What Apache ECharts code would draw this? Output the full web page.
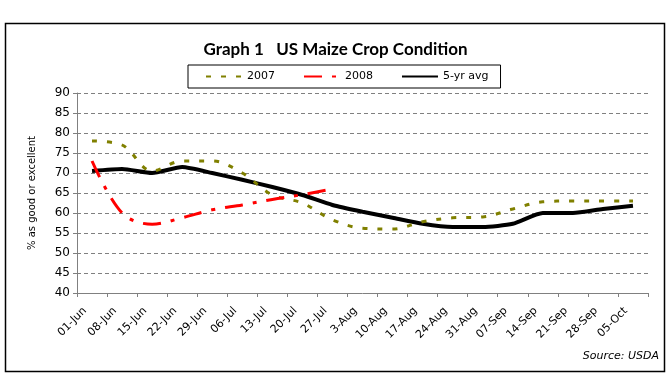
<!DOCTYPE html>
<html><head><meta charset="utf-8">
<script src="https://cdn.jsdelivr.net/npm/echarts@6/dist/echarts.min.js"></script>
<style>html,body{margin:0;padding:0;background:#fff}#c{width:671px;height:375px}</style>
</head><body><div id="c"></div>
<script>
const categories = ['01-Jun','08-Jun','15-Jun','22-Jun','29-Jun','06-Jul','13-Jul','20-Jul','27-Jul','3-Aug','10-Aug','17-Aug','24-Aug','31-Aug','07-Sep','14-Sep','21-Sep','28-Sep','05-Oct'];
const y2007 = [78, 77, 70.5, 73, 73, 70, 64.5, 62.5, 58.3, 56.2, 56, 57.8, 58.8, 59, 61, 62.8, 63, 63, 63];
const y2008 = [73, 60, 57.2, 58.8, 60.8, 62, 63.4, 64.6, 66];
const yAvg = [70.5, 71, 70, 71.5, 70, 68.3, 66.5, 64.5, 62, 60.3, 58.8, 57.3, 56.5, 56.5, 57.3, 60, 60, 61, 61.8];
const yTicks = {min: 40, max: 90, step: 5};

const chart = echarts.init(document.getElementById('c'));
chart.setOption({
  animation: false,
  backgroundColor: '#fff',
  title: {
    text: 'Graph 1   US Maize Crop Condition',
    left: 'center', top: 36,
    textStyle: {fontFamily: 'Lato', fontWeight: 'bold', fontSize: 17, color: '#000'}
  },
  legend: {
    top: 65, left: 188, orient: 'horizontal',
    itemWidth: 36, itemHeight: 11, itemGap: 28,
    padding: [6, 12, 6, 17],
    borderColor: '#000', borderWidth: 1,
    itemStyle: {opacity: 0},
    textStyle: {fontFamily: 'DejaVu Sans', fontSize: 11, color: '#000'},
    data: ['2007', '2008', '5-yr avg']
  },
  grid: {left: 77, right: 23, top: 93, bottom: 82, containLabel: false},
  xAxis: {
    type: 'category', data: categories, boundaryGap: true,
    axisLine: {lineStyle: {color: '#808080', width: 1}},
    axisTick: {show: true, alignWithLabel: false, length: 4, lineStyle: {color: '#808080'}},
    axisLabel: {rotate: 45, margin: 9, padding: [0, 10, 0, 0], interval: 0, fontFamily: 'DejaVu Sans', fontSize: 11, color: '#000'}
  },
  yAxis: {
    type: 'value', min: yTicks.min, max: yTicks.max, interval: yTicks.step,
    name: '% as good or excellent', nameLocation: 'middle', nameGap: 40, nameRotate: 90,
    nameTextStyle: {fontFamily: 'DejaVu Sans', fontSize: 10, color: '#000'},
    axisLine: {show: true, lineStyle: {color: '#808080', width: 1}},
    axisTick: {show: true, length: 4, lineStyle: {color: '#808080'}},
    axisLabel: {margin: 7, fontFamily: 'DejaVu Sans', fontSize: 12, color: '#000'},
    splitLine: {lineStyle: {color: '#808080', type: [4, 3], width: 1}}
  },
  series: [
    {name: '2007', type: 'line', data: y2007, smooth: 0.35, symbol: 'none',
     color: '#808000', lineStyle: {color: '#808000', width: 3, type: [5, 10]}},
    {name: '2008', type: 'line', data: y2008, smooth: 0.35, symbol: 'none',
     color: '#ff0000', lineStyle: {color: '#ff0000', width: 3, type: [18, 10, 4, 10]}},
    {name: '5-yr avg', type: 'line', data: yAvg, smooth: 0.2, symbol: 'none', z: 1,
     color: '#000', lineStyle: {color: '#000', width: 4}}
  ],
  graphic: [
    {type: 'rect', shape: {x: 5.5, y: 23.5, width: 659, height: 348}, style: {fill: 'none', stroke: '#000', lineWidth: 1.5}, silent: true, z: -1},
    {type: 'text', right: 12, top: 351, style: {text: 'Source: USDA', font: 'italic 11px "DejaVu Sans"', fill: '#000'}}
  ]
});
</script></body></html>
